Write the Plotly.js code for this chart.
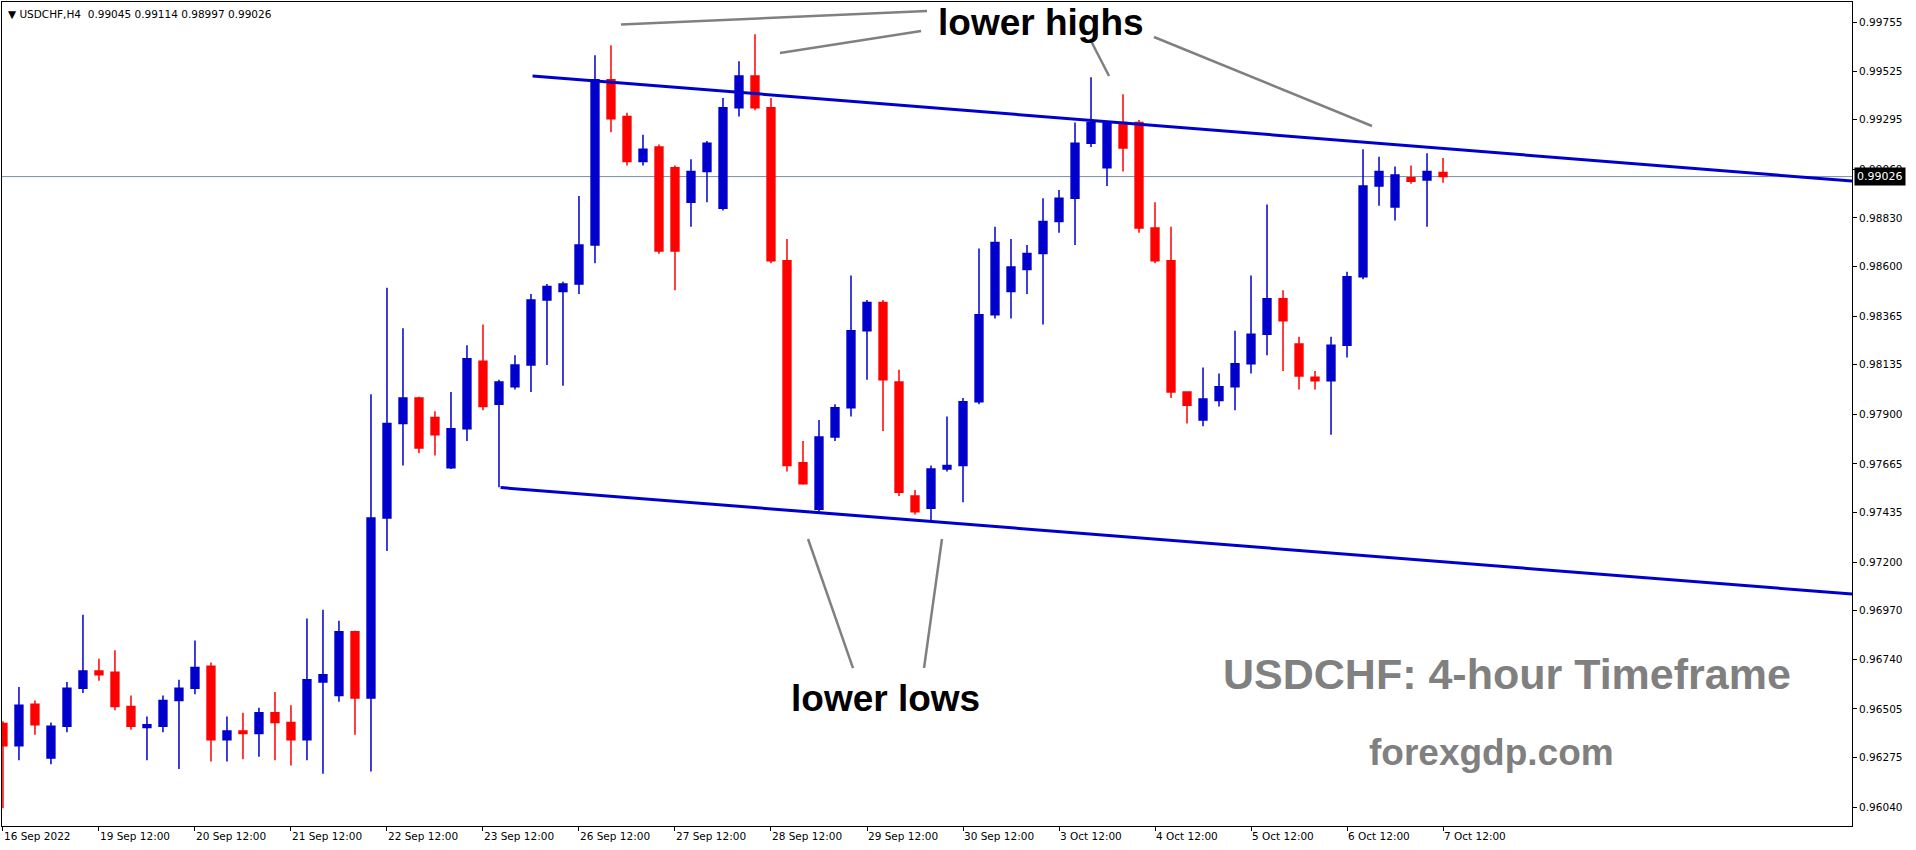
<!DOCTYPE html>
<html><head><meta charset="utf-8">
<script src="https://cdn.plot.ly/plotly-3.0.1.min.js"></script>
<style>html,body{margin:0;padding:0;background:#fff;}#chart{width:1916px;height:850px;}</style>
</head><body><div id="chart"></div>
<script>
const times = [
"16 Sep 12:00","16 Sep 16:00","16 Sep 20:00",
"19 Sep 00:00","19 Sep 04:00","19 Sep 08:00","19 Sep 12:00","19 Sep 16:00","19 Sep 20:00",
"20 Sep 00:00","20 Sep 04:00","20 Sep 08:00","20 Sep 12:00","20 Sep 16:00","20 Sep 20:00",
"21 Sep 00:00","21 Sep 04:00","21 Sep 08:00","21 Sep 12:00","21 Sep 16:00","21 Sep 20:00",
"22 Sep 00:00","22 Sep 04:00","22 Sep 08:00","22 Sep 12:00","22 Sep 16:00","22 Sep 20:00",
"23 Sep 00:00","23 Sep 04:00","23 Sep 08:00","23 Sep 12:00","23 Sep 16:00","23 Sep 20:00",
"26 Sep 00:00","26 Sep 04:00","26 Sep 08:00","26 Sep 12:00","26 Sep 16:00","26 Sep 20:00",
"27 Sep 00:00","27 Sep 04:00","27 Sep 08:00","27 Sep 12:00","27 Sep 16:00","27 Sep 20:00",
"28 Sep 00:00","28 Sep 04:00","28 Sep 08:00","28 Sep 12:00","28 Sep 16:00","28 Sep 20:00",
"29 Sep 00:00","29 Sep 04:00","29 Sep 08:00","29 Sep 12:00","29 Sep 16:00","29 Sep 20:00",
"30 Sep 00:00","30 Sep 04:00","30 Sep 08:00","30 Sep 12:00","30 Sep 16:00","30 Sep 20:00",
"3 Oct 00:00","3 Oct 04:00","3 Oct 08:00","3 Oct 12:00","3 Oct 16:00","3 Oct 20:00",
"4 Oct 00:00","4 Oct 04:00","4 Oct 08:00","4 Oct 12:00","4 Oct 16:00","4 Oct 20:00",
"5 Oct 00:00","5 Oct 04:00","5 Oct 08:00","5 Oct 12:00","5 Oct 16:00","5 Oct 20:00",
"6 Oct 00:00","6 Oct 04:00","6 Oct 08:00","6 Oct 12:00","6 Oct 16:00","6 Oct 20:00",
"7 Oct 00:00","7 Oct 04:00","7 Oct 08:00","7 Oct 12:00"];

const openP  = [0.96435,0.96330,0.96527,0.96272,0.96423,0.96603,0.96684,0.96678,0.96516,0.96417,
0.96423,0.96545,0.96603,0.96707,0.96359,0.96400,0.96388,0.96487,0.96440,0.96359,
0.96632,0.96568,0.96870,0.96556,0.97409,0.97856,0.97977,0.97885,0.97647,0.97832,
0.98151,0.97948,0.98030,0.98134,0.98441,0.98482,0.98517,0.98702,0.99485,0.99311,
0.99097,0.99166,0.99068,0.98905,0.99050,0.98876,0.99352,0.99503,0.99352,0.98627,
0.97670,0.97450,0.97792,0.97931,0.98296,0.98430,0.98053,0.97513,0.97455,0.97641,
0.97658,0.97960,0.98372,0.98482,0.98586,0.98662,0.98813,0.98923,0.99184,0.99068,
0.99282,0.99282,0.98783,0.98627,0.98006,0.97873,0.97966,0.98030,0.98140,0.98279,
0.98447,0.98233,0.98076,0.98059,0.98227,0.98552,0.98981,0.98882,0.99021,0.99010,
0.99045];
const highP  = [0.96446,0.96608,0.96545,0.96440,0.96632,0.96951,0.96742,0.96783,0.96568,0.96469,
0.96568,0.96643,0.96829,0.96725,0.96469,0.96487,0.96510,0.96585,0.96522,0.96933,
0.96974,0.96922,0.96875,0.97995,0.98499,0.98308,0.97983,0.97914,0.98006,0.98227,
0.98325,0.98064,0.98180,0.98470,0.98517,0.98528,0.98934,0.99601,0.99648,0.99329,
0.99224,0.99178,0.99079,0.99108,0.99195,0.99398,0.99572,0.99700,0.99398,0.98731,
0.97774,0.97873,0.97948,0.98557,0.98441,0.98441,0.98111,0.97542,0.97658,0.97890,
0.97977,0.98685,0.98789,0.98731,0.98702,0.98923,0.98963,0.99282,0.99497,0.99282,
0.99416,0.99294,0.98905,0.98789,0.98006,0.98122,0.98093,0.98296,0.98557,0.98894,
0.98488,0.98267,0.98105,0.98267,0.98575,0.99155,0.99120,0.99074,0.99079,0.99137,
0.99114];
const lowP   = [0.96034,0.96261,0.96382,0.96243,0.96394,0.96580,0.96638,0.96498,0.96406,0.96261,
0.96394,0.96220,0.96574,0.96255,0.96255,0.96266,0.96278,0.96261,0.96237,0.96261,
0.96197,0.96539,0.96382,0.96208,0.97252,0.97658,0.97716,0.97705,0.97641,0.97774,
0.97919,0.97554,0.98018,0.98006,0.98134,0.98035,0.98470,0.98615,0.99236,0.99079,
0.99079,0.98660,0.98488,0.98789,0.98905,0.98865,0.99311,0.99340,0.98615,0.97629,
0.97566,0.97438,0.97774,0.97890,0.98064,0.97821,0.97513,0.97426,0.97397,0.97629,
0.97484,0.97948,0.98354,0.98354,0.98470,0.98325,0.98760,0.98702,0.99166,0.98981,
0.99050,0.98760,0.98615,0.97977,0.97856,0.97844,0.97937,0.97919,0.98093,0.98180,
0.98105,0.98018,0.98018,0.97803,0.98169,0.98540,0.98888,0.98818,0.98992,0.98789,
0.98997];
const closeP = [0.96330,0.96522,0.96429,0.96423,0.96603,0.96684,0.96667,0.96516,0.96423,0.96429,
0.96545,0.96603,0.96701,0.96359,0.96400,0.96388,0.96487,0.96440,0.96359,0.96643,
0.96667,0.96870,0.96556,0.97409,0.97856,0.97977,0.97740,0.97803,0.97832,0.98163,
0.97937,0.98053,0.98134,0.98441,0.98505,0.98517,0.98702,0.99485,0.99300,0.99097,
0.99155,0.98673,0.98673,0.99050,0.99184,0.99352,0.99503,0.99352,0.98627,0.97658,
0.97571,0.97792,0.97931,0.98296,0.98430,0.98064,0.97531,0.97438,0.97641,0.97658,
0.97960,0.98372,0.98714,0.98598,0.98662,0.98813,0.98923,0.99184,0.99282,0.99282,
0.99161,0.98783,0.98627,0.98006,0.97943,0.97972,0.98030,0.98140,0.98279,0.98447,
0.98343,0.98082,0.98059,0.98227,0.98552,0.98981,0.99050,0.99033,0.99004,0.99050,
0.99026];

const dateTickIdx = [0,6,12,18,24,30,36,42,48,54,60,66,72,78,84,90];
const dateTickText = ["16 Sep 2022","19 Sep 12:00","20 Sep 12:00","21 Sep 12:00","22 Sep 12:00","23 Sep 12:00",
"26 Sep 12:00","27 Sep 12:00","28 Sep 12:00","29 Sep 12:00","30 Sep 12:00","3 Oct 12:00","4 Oct 12:00",
"5 Oct 12:00","6 Oct 12:00","7 Oct 12:00"];
const priceTickVals = [0.99755,0.99525,0.99295,0.99060,0.98830,0.98600,0.98365,0.98135,0.97900,0.97665,
0.97435,0.97200,0.96970,0.96740,0.96505,0.96275,0.96040];
const priceTickText = priceTickVals.map(v => v.toFixed(5));

const upperChannel = {x: [33.1, 115.56], y: [0.99503, 0.99005]};
const lowerChannel = {x: [31.1, 115.56], y: [0.97553, 0.97049]};
const lastPrice = 0.99026;
const headerText = "▼ USDCHF,H4  0.99045 0.99114 0.98997 0.99026";

const UP = "#0000cd", DN = "#ff0000";
const axisFont = {family: "DejaVu Sans", size: 10.5, color: "#000"};

const trace = {
  type: "candlestick", x: times, open: openP, high: highP, low: lowP, close: closeP,
  increasing: {line: {color: UP, width: 1.5}, fillcolor: UP},
  decreasing: {line: {color: DN, width: 1.5}, fillcolor: DN},
  whiskerwidth: 0, hoverinfo: "none", showlegend: false
};

const grayLine = {color: "#808080", width: 2.5};
const shapes = [
  {type: "line", xref: "paper", x0: 0, x1: 1, yref: "y", y0: lastPrice, y1: lastPrice, line: {color: "#7b8ca3", width: 1}, layer: "below"},
  {type: "line", xref: "x", yref: "y", x0: upperChannel.x[0], x1: upperChannel.x[1], y0: upperChannel.y[0], y1: upperChannel.y[1], line: {color: UP, width: 3}},
  {type: "line", xref: "x", yref: "y", x0: lowerChannel.x[0], x1: lowerChannel.x[1], y0: lowerChannel.y[0], y1: lowerChannel.y[1], line: {color: UP, width: 3}},
  {type: "line", xref: "paper", yref: "paper", x0: 0.3346, y0: 0.9727, x1: 0.5, y1: 0.9891, line: grayLine},
  {type: "line", xref: "paper", yref: "paper", x0: 0.4205, y0: 0.9381, x1: 0.4968, y1: 0.9648, line: grayLine},
  {type: "line", xref: "paper", yref: "paper", x0: 0.5881, y0: 0.9551, x1: 0.5984, y1: 0.9102, line: grayLine},
  {type: "line", xref: "paper", yref: "paper", x0: 0.6227, y0: 0.9575, x1: 0.7405, y1: 0.8495, line: grayLine},
  {type: "line", xref: "paper", yref: "paper", x0: 0.4357, y0: 0.3483, x1: 0.4600, y1: 0.1917, line: grayLine},
  {type: "line", xref: "paper", yref: "paper", x0: 0.5081, y0: 0.3483, x1: 0.4984, y1: 0.1917, line: grayLine}
];

const bigFont = (c, s) => ({family: "Liberation Sans, Arial, sans-serif", size: s, color: c});
const label = (x, y, text, font) => ({xref: "paper", yref: "paper", x: x, y: y, xanchor: "center", yanchor: "middle",
  text: text, showarrow: false, font: font});
const annotations = [
  {xref: "paper", yref: "paper", x: 0, y: 1, xanchor: "left", yanchor: "top", xshift: 4, yshift: -4,
   text: headerText, showarrow: false, font: axisFont},
  {xref: "paper", yref: "y", x: 1, y: lastPrice, xanchor: "left", yanchor: "middle", xshift: 2,
   text: lastPrice.toFixed(5), showarrow: false, bgcolor: "#000", borderpad: 2, font: {family: "DejaVu Sans", size: 11, color: "#fff"}},
  label(0.5616, 0.9757, "<b>lower highs</b>", bigFont("#000", 37)),
  label(0.4778, 0.1553, "<b>lower lows</b>", bigFont("#000", 37)),
  label(0.8135, 0.1845, "<b>USDCHF: 4-hour Timeframe</b>", bigFont("#808080", 43)),
  label(0.8049, 0.0886, "<b>forexgdp.com</b>", bigFont("#808080", 37))
];

const layout = {
  width: 1916, height: 850, paper_bgcolor: "#fff", plot_bgcolor: "#fff",
  margin: {l: 2, r: 64, t: 2, b: 24},
  showlegend: false, dragmode: false,
  xaxis: {type: "category", range: [-0.06, 115.56], rangeslider: {visible: false},
    tickmode: "array", tickvals: dateTickIdx.map(i => times[i]), ticktext: dateTickText,
    ticks: "outside", ticklen: 4, tickcolor: "#000", tickfont: axisFont, ticklabelposition: "outside right",
    showgrid: false, zeroline: false, showline: true, mirror: true, linecolor: "#000", linewidth: 1, fixedrange: true},
  yaxis: {side: "right", range: [0.95950, 0.99853], tickmode: "array", tickvals: priceTickVals, ticktext: priceTickText,
    ticks: "outside", ticklen: 4, tickcolor: "#000", tickfont: axisFont,
    showgrid: false, zeroline: false, showline: true, mirror: true, linecolor: "#000", linewidth: 1, fixedrange: true},
  shapes: shapes, annotations: annotations
};

Plotly.newPlot("chart", [trace], layout, {staticPlot: true, displayModeBar: false});
</script></body></html>
